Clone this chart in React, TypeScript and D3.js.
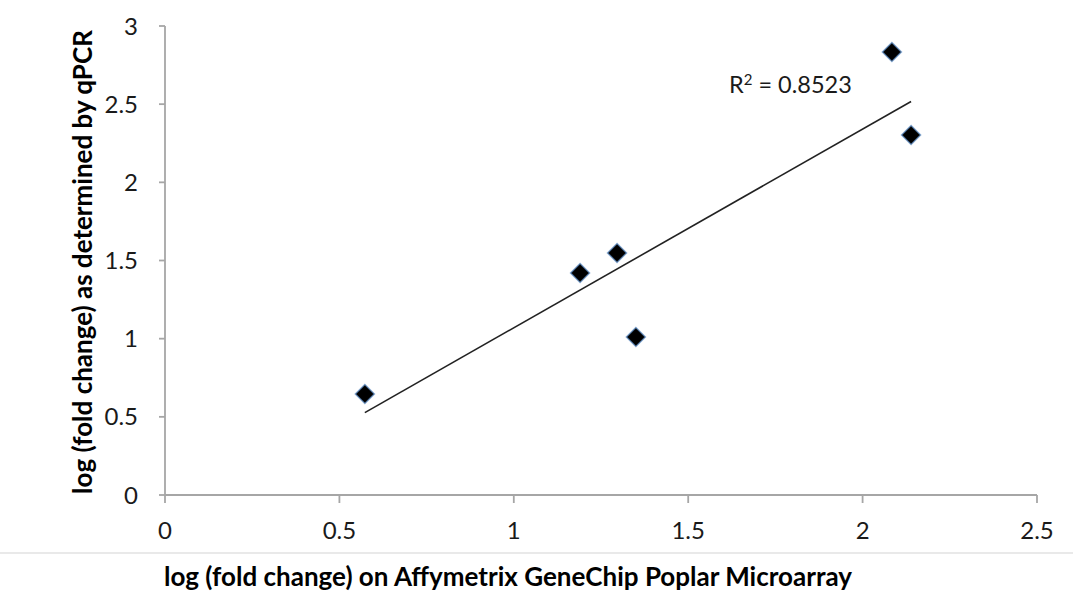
import React from "react";
import * as d3 from "d3";

const microarrayLog = [0.573, 1.19, 1.296, 1.35, 2.084, 2.139];
const qpcrLog = [0.646, 1.42, 1.548, 1.011, 2.834, 2.303];
const xTicks = [0, 0.5, 1, 1.5, 2, 2.5];
const yTicks = [0, 0.5, 1, 1.5, 2, 2.5, 3];
const r2Label = "0.8523";
const xTitle = "log (fold change) on Affymetrix GeneChip Poplar Microarray";
const yTitle = "log (fold change) as determined by qPCR";

const W = 1073;
const H = 593;
const FONT = "Lato, 'Open Sans', sans-serif";

export default function App() {
  const x = d3.scaleLinear().domain([0, 2.5]).range([165, 1037]);
  const y = d3.scaleLinear().domain([0, 3]).range([495, 26]);

  const pts = microarrayLog.map((v, i) => ({ x: v, y: qpcrLog[i] }));
  const mx = d3.mean(pts, (d) => d.x) as number;
  const my = d3.mean(pts, (d) => d.y) as number;
  const sxy = d3.sum(pts, (d) => (d.x - mx) * (d.y - my));
  const sxx = d3.sum(pts, (d) => (d.x - mx) * (d.x - mx));
  const slope = sxy / sxx;
  const intercept = my - slope * mx;
  const [x0, x1] = d3.extent(microarrayLog) as [number, number];
  const trend = d3.line<number>()
    .x((v) => x(v))
    .y((v) => y(intercept + slope * v))([x0, x1]) as string;

  const diamond = (cx: number, cy: number, r: number) =>
    `M${cx},${cy - r}L${cx + r},${cy}L${cx},${cy + r}L${cx - r},${cy}Z`;

  const axisColor = "#a6a6a6";
  const tickFont = 24;

  return (
    <svg width={W} height={H} style={{ position: "absolute", left: 0, top: 0, background: "#fff" }}>
      <rect x={0} y={0} width={W} height={H} fill="#fff" />
      {/* y axis */}
      <line x1={x(0)} x2={x(0)} y1={y(3)} y2={y(0)} stroke={axisColor} strokeWidth={1.8} />
      {yTicks.map((t) => (
        <g key={"y" + t}>
          <line x1={x(0) - 6} x2={x(0)} y1={y(t)} y2={y(t)} stroke={axisColor} strokeWidth={1.8} />
          <text x={138} y={y(t)} dy="0.36em" textAnchor="end" fontFamily={FONT} fontSize={tickFont} fill="#1a1a1a">
            {t}
          </text>
        </g>
      ))}
      {/* x axis */}
      <line x1={x(0)} x2={x(2.5)} y1={y(0)} y2={y(0)} stroke={axisColor} strokeWidth={1.8} />
      {xTicks.map((t) => (
        <g key={"x" + t}>
          <line x1={x(t)} x2={x(t)} y1={y(0)} y2={y(0) + 8} stroke={axisColor} strokeWidth={1.8} />
          <text x={x(t)} y={539} textAnchor="middle" fontFamily={FONT} fontSize={tickFont} fill="#1a1a1a">
            {t}
          </text>
        </g>
      ))}
      {/* trend line */}
      <path d={trend} fill="none" stroke="#222" strokeWidth={1.6} />
      {/* points */}
      {pts.map((p, i) => (
        <path
          key={i}
          d={diamond(x(p.x), y(p.y), 9.5)}
          fill="#000"
          stroke="#5b8cc4"
          strokeOpacity={0.7}
          strokeWidth={1.5}
        />
      ))}
      {/* R^2 label */}
      <text x={729} y={93} fontFamily={FONT} fontSize={23.5} fill="#1a1a1a">
        R<tspan dy={-8} fontSize={15}>2</tspan>
        <tspan dy={8}>{" = " + r2Label}</tspan>
      </text>
      {/* separator */}
      <line x1={0} x2={W} y1={553} y2={553} stroke="#d4d4d4" strokeWidth={1.2} />
      {/* axis titles */}
      <text x={508} y={586} textAnchor="middle" fontFamily={FONT} fontSize={26} fontWeight="bold" fill="#000">
        {xTitle}
      </text>
      <text
        transform={`translate(92,262) rotate(-90)`}
        textAnchor="middle"
        fontFamily={FONT}
        fontSize={26}
        fontWeight="bold"
        fill="#000"
      >
        {yTitle}
      </text>
    </svg>
  );
}
